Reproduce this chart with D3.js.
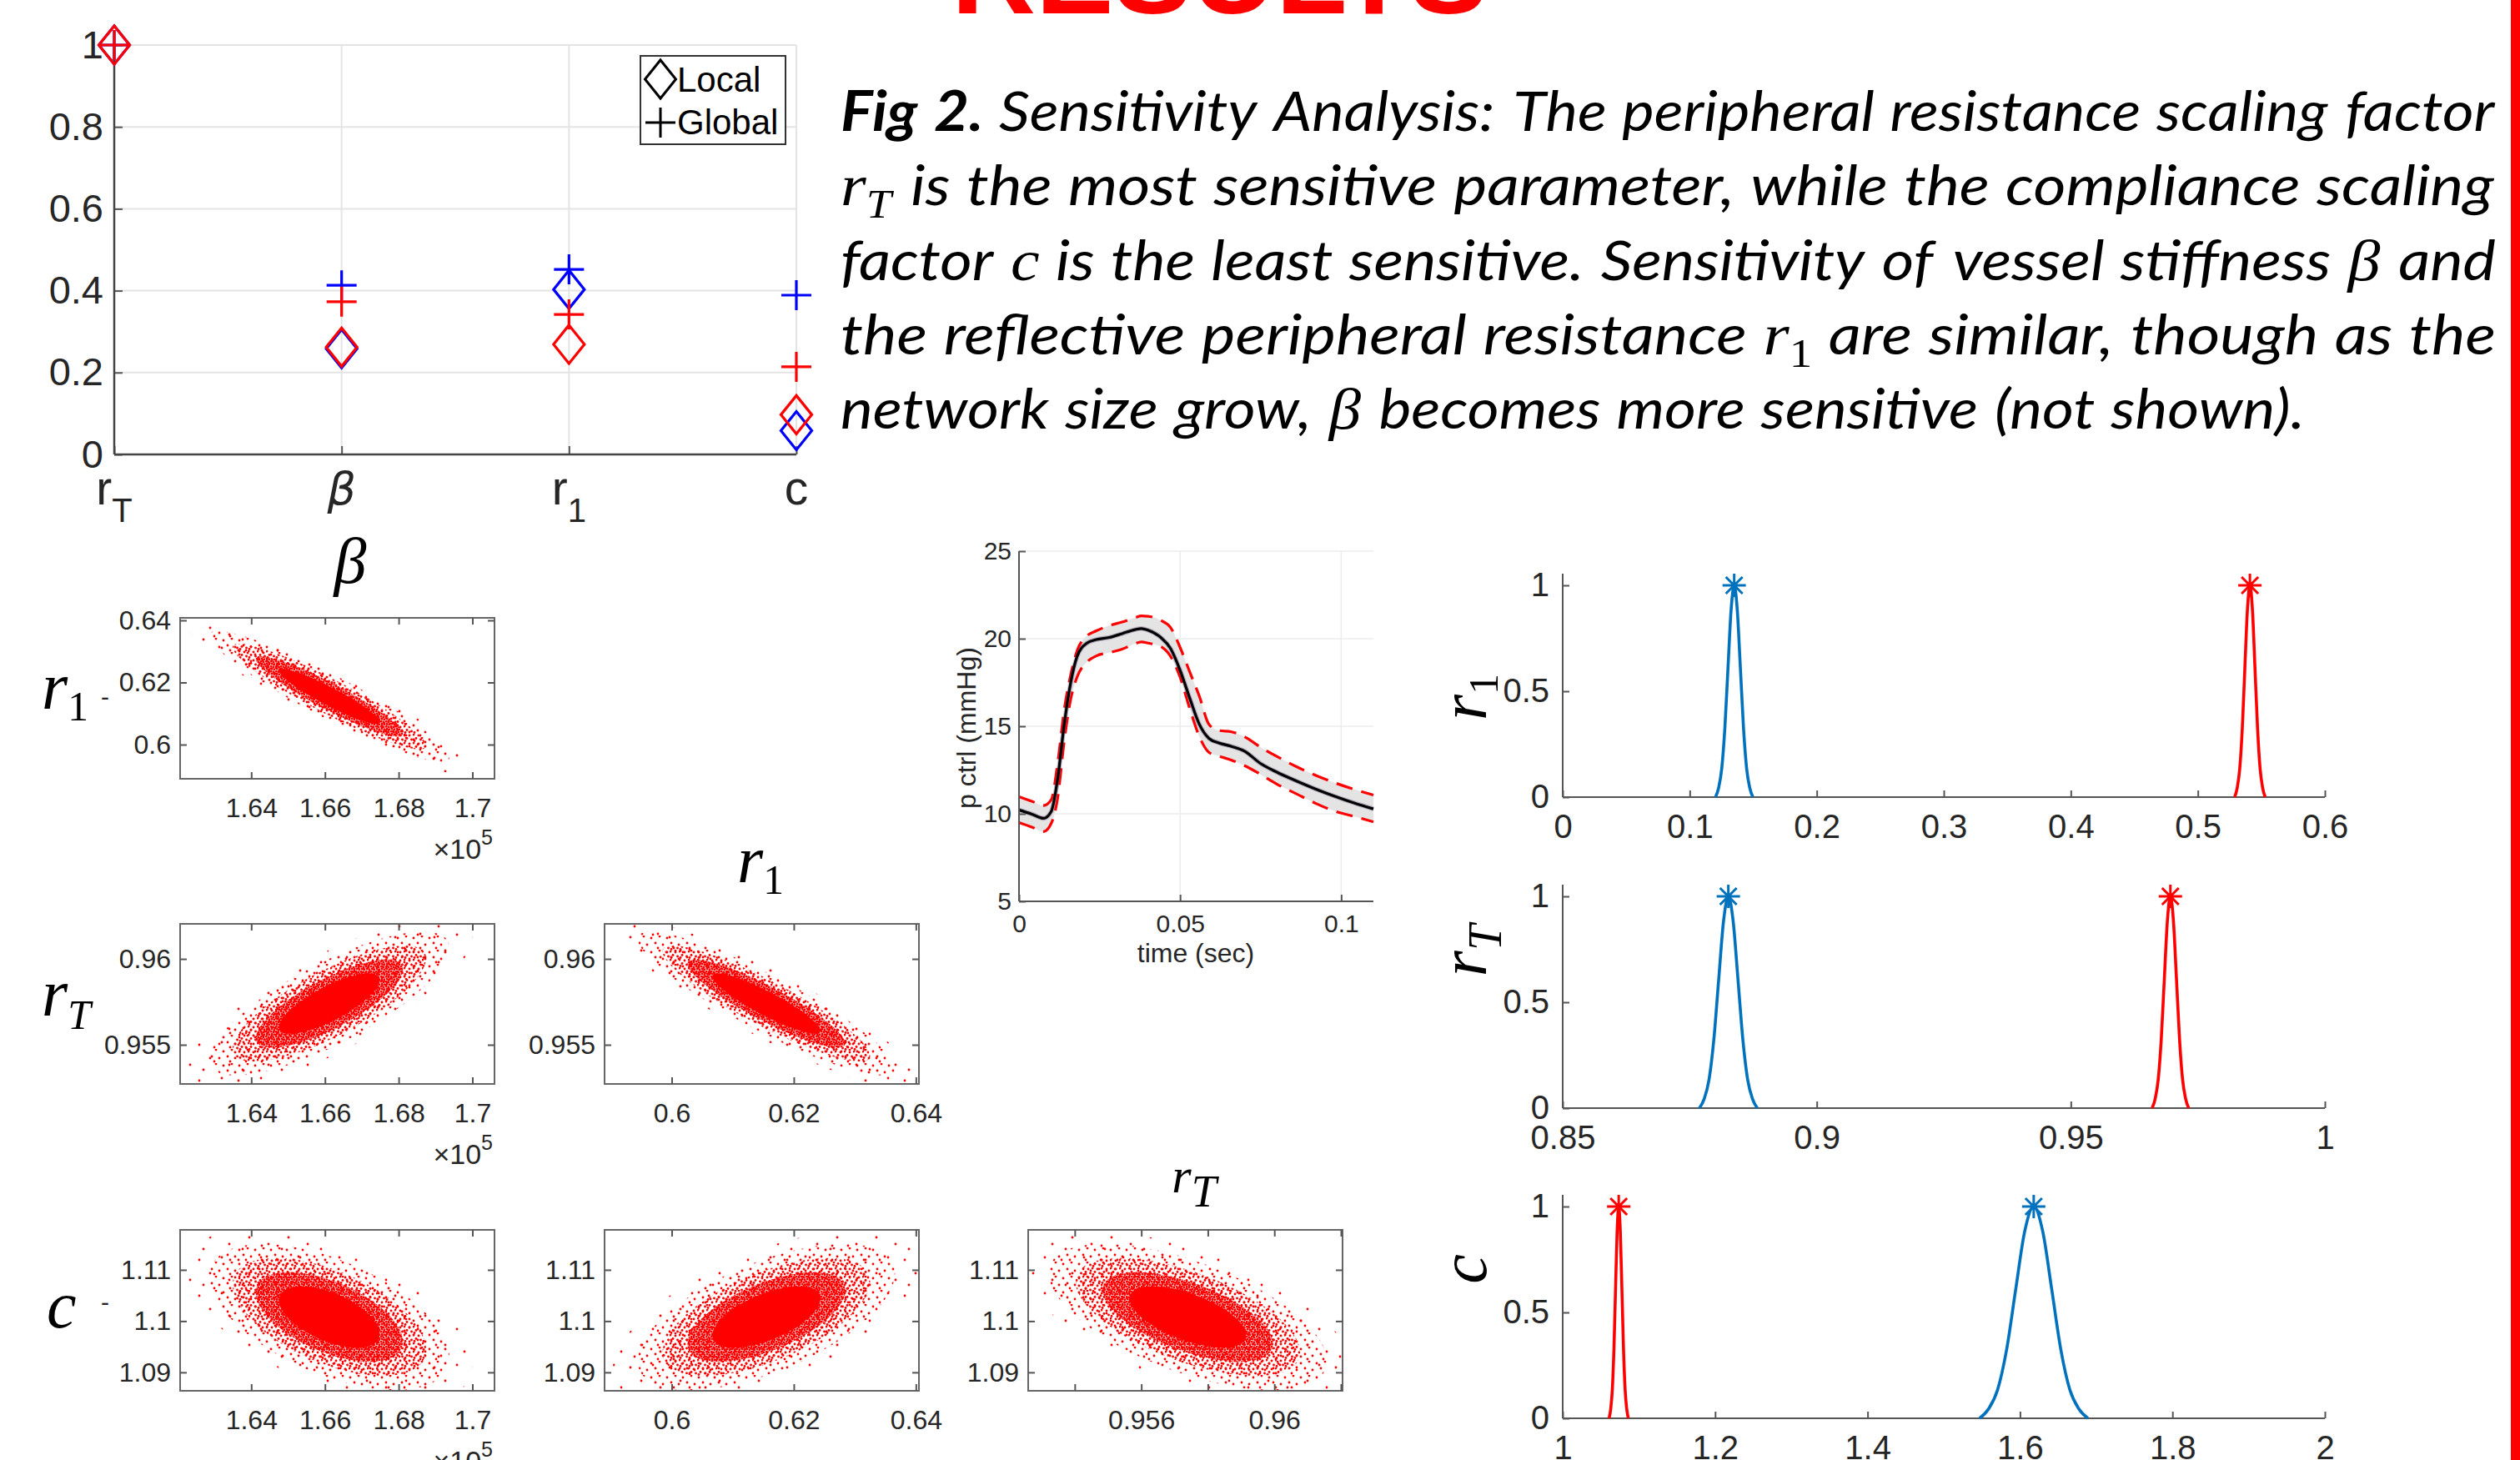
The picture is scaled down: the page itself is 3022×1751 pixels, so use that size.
<!DOCTYPE html>
<html><head><meta charset="utf-8">
<script src="https://cdn.jsdelivr.net/npm/d3@7"></script>
<style>body{margin:0;background:#fff;} svg{display:block;}</style>
</head><body>
<svg id="c" width="3022" height="1751"></svg>
<script>
// ===================== DATA =====================
// Sensitivity (top-left)
const sensCategories = ["rT", "beta", "r1", "c"];
const localBlue  = [1.0, 0.258, 0.403, 0.058];
const localRed   = [1.0, 0.262, 0.269, 0.097];
const globalBlue = [1.0, 0.413, 0.452, 0.389];
const globalRed  = [1.0, 0.373, 0.342, 0.214];
const sensYTicks = [0, 0.2, 0.4, 0.6, 0.8, 1];

const params    = ["beta", "r1", "rT", "c"];
const paramMean = [1.6612, 0.6155, 0.9574, 1.1008];
const paramSd   = [0.0105, 0.0068, 0.00135, 0.0046];
const pairX     = ["beta", "beta", "r1", "beta", "r1", "rT"];
const pairY     = ["r1",   "rT",   "rT", "c",    "c",  "c"];
const pairRho   = [-0.93,  0.78,  -0.90, -0.55,  0.60, -0.60];
const betaTicks = [1.64, 1.66, 1.68, 1.70];
const r1Ticks   = [0.60, 0.62, 0.64];
const rTxTicks  = [0.954, 0.956, 0.958, 0.960, 0.962];
const rTxLabels = [0.956, 0.960];
const rTyTicks  = [0.955, 0.960];
const cTicks    = [1.09, 1.10, 1.11];
const xDomains  = {beta: [1.6207, 1.7060], r1: [0.5890, 0.6405], rT: [0.9526, 0.96205]};
const yDomains  = {r1: [0.5890, 0.6408], rT: [0.95272, 0.96204], c: [1.0864, 1.1178]};

// Pressure trace (middle)
const timeSec = [0, 0.004, 0.0076, 0.010, 0.012, 0.014, 0.016, 0.018, 0.021, 0.024, 0.028, 0.032, 0.036, 0.038, 0.040, 0.044, 0.047, 0.050, 0.053, 0.056, 0.059, 0.062, 0.066, 0.070, 0.075, 0.080, 0.086, 0.092, 0.098, 0.104, 0.110];
const pMean  = [10.22, 9.98, 9.74, 10.13, 12.0, 15.06, 17.44, 18.97, 19.74, 19.95, 20.07, 20.29, 20.52, 20.58, 20.49, 20.07, 19.45, 18.2, 16.6, 15.1, 14.3, 14.05, 13.85, 13.58, 12.87, 12.38, 11.88, 11.42, 11.0, 10.62, 10.28];
const pUpper = [10.98, 10.72, 10.47, 10.80, 12.9, 15.9, 17.9, 19.3, 20.15, 20.45, 20.75, 20.95, 21.2, 21.3, 21.28, 21.05, 20.65, 19.5, 18.1, 16.7, 15.1, 14.76, 14.68, 14.4, 13.8, 13.28, 12.7, 12.2, 11.77, 11.4, 11.07];
const pLower = [9.50, 9.24, 8.98, 9.45, 10.9, 14.1, 16.5, 17.8, 18.65, 19.02, 19.2, 19.4, 19.72, 19.82, 19.75, 19.55, 19.0, 17.8, 16.0, 14.4, 13.5, 13.3, 13.06, 12.75, 12.25, 11.7, 11.15, 10.6, 10.15, 9.85, 9.54];
const pYTicks = [5, 10, 15, 20, 25];
const pXTicks = [0, 0.05, 0.1];

// Marginal densities (right column)
const peakShape = [0, 0.044, 0.135, 0.325, 0.607, 0.882, 1, 0.882, 0.607, 0.325, 0.135, 0.044, 0];
const r1BlueX = [0.1203, 0.12275, 0.1252, 0.12765, 0.1301, 0.13255, 0.1350, 0.13745, 0.1399, 0.14235, 0.1448, 0.14725, 0.1497];
const r1RedX  = [0.5290, 0.5310, 0.5330, 0.5350, 0.5370, 0.5390, 0.5410, 0.5430, 0.5450, 0.5470, 0.5490, 0.5510, 0.5530];
const rTBlueX = [0.8769, 0.87785, 0.8788, 0.87975, 0.8807, 0.88165, 0.8826, 0.88355, 0.8845, 0.88545, 0.8864, 0.88735, 0.8883];
const rTRedX  = [0.9660, 0.9666, 0.9672, 0.9678, 0.9684, 0.9690, 0.9696, 0.9702, 0.9708, 0.9714, 0.9720, 0.9726, 0.9732];
const cRedX   = [1.0609, 1.0630, 1.0651, 1.0672, 1.0693, 1.0714, 1.0735, 1.0756, 1.0777, 1.0798, 1.0819, 1.0840, 1.0861];
const cBlueX  = [1.5469, 1.55875, 1.5706, 1.58245, 1.5943, 1.60615, 1.618, 1.62985, 1.6417, 1.65355, 1.6654, 1.67725, 1.6891];
const r1XTicks = [0, 0.1, 0.2, 0.3, 0.4, 0.5, 0.6];
const rTXTicks = [0.85, 0.9, 0.95, 1];
const cXTicks  = [1, 1.2, 1.4, 1.6, 1.8, 2];
const margYTicks = [0, 0.5, 1];

// Caption
const captionLines = [
  [[["bi","Fig"]],[["bi","2."]],"Sensitivity","Analysis:","The","peripheral","resistance","scaling","factor"],
  [[["m","r"],["ms","T"]],"is","the","most","sensitive","parameter,","while","the","compliance","scaling"],
  ["factor",[["m","c"]],"is","the","least","sensitive.","Sensitivity","of","vessel","stiffness",[["m","β"]],"and"],
  ["the","reflective","peripheral","resistance",[["m","r"],["mn","1"]],"are","similar,","though","as","the"],
  ["network","size","grow,",[["m","β"]],"becomes","more","sensitive","(not","shown)."]
];

// ===================== DRAW =====================
const W = 3022, H = 1751;
const SANS = "'Liberation Sans', Arial, Helvetica, sans-serif";
const CAPF = "Lato, 'Open Sans', sans-serif";
const MATHF = "'Liberation Serif', 'DejaVu Serif', serif";
const INK = "#262626", AXC = "#555", BLUE = "#0000ff", RED = "#ff0000", MBLUE = "#0072bd";
const svg = d3.select("#c");
svg.append("rect").attr("width", W).attr("height", H).attr("fill", "#fff");
const defs = svg.append("defs");

function styleAxis(g, fs) {
  g.selectAll("text").attr("font-family", SANS).attr("font-size", fs).attr("fill", INK);
  g.selectAll(".tick line").attr("stroke", AXC).attr("stroke-width", 2);
  g.select(".domain").remove();
}
const fmt = d3.format("~g");

// Title (cut at top) and right red bar
svg.append("text").attr("x", 1141).attr("y", 16).attr("font-family", SANS).attr("font-weight", "bold")
  .attr("font-size", 138).attr("fill", RED).attr("textLength", 643).attr("lengthAdjust", "spacingAndGlyphs").text("RESULTS");
svg.append("rect").attr("x", 3011).attr("y", 0).attr("width", 11).attr("height", H).attr("fill", RED);

// ---------- Top-left sensitivity chart ----------
{
  const x = d3.scalePoint().domain(sensCategories).range([137, 955]);
  const y = d3.scaleLinear().domain([0, 1]).range([545, 54]);
  const g = svg.append("g");
  g.selectAll(".hg").data(sensYTicks.slice(1)).join("line")
    .attr("x1", 137).attr("x2", 955).attr("y1", d => y(d)).attr("y2", d => y(d))
    .attr("stroke", "#e4e4e4").attr("stroke-width", 2);
  g.selectAll(".vg").data(sensCategories.slice(1)).join("line")
    .attr("x1", d => x(d)).attr("x2", d => x(d)).attr("y1", y(0)).attr("y2", y(1))
    .attr("stroke", "#e4e4e4").attr("stroke-width", 2);
  const ya = g.append("g").attr("transform", "translate(137,0)")
    .call(d3.axisLeft(y).tickValues(sensYTicks).tickSize(-10).tickSizeOuter(0).tickPadding(13).tickFormat(fmt));
  styleAxis(ya, 47);
  const xa = g.append("g").attr("transform", "translate(0,545)")
    .call(d3.axisBottom(x).tickSize(-10).tickSizeOuter(0).tickFormat(""));
  styleAxis(xa, 47);
  g.append("line").attr("x1", 137).attr("x2", 137).attr("y1", y(0)).attr("y2", y(1)).attr("stroke", "#444").attr("stroke-width", 2.5);
  g.append("line").attr("x1", 137).attr("x2", 955).attr("y1", y(0)).attr("y2", y(0)).attr("stroke", "#444").attr("stroke-width", 2.5);
  // category labels
  const lab = {rT: ["r", "T"], beta: ["β", null], r1: ["r", "1"], c: ["c", null]};
  sensCategories.forEach(k => {
    const t = g.append("text").attr("x", x(k)).attr("y", 605).attr("text-anchor", "middle")
      .attr("font-family", SANS).attr("font-size", 57).attr("fill", INK);
    const b = t.append("tspan").text(lab[k][0]);
    if (k === "beta") b.attr("font-style", "italic").attr("font-family", "'DejaVu Sans', sans-serif").attr("font-weight", 200).attr("font-size", 54);
    if (lab[k][1]) t.append("tspan").attr("font-size", 40).attr("dy", 21).text(lab[k][1]);
  });
  const diamond = "M0,-23L18.5,0L0,23L-18.5,0Z";
  const plus = "M-18,0H18M0,-18V18";
  const series = [
    {vals: localBlue, color: BLUE, path: diamond},
    {vals: globalBlue, color: BLUE, path: plus},
    {vals: localRed, color: RED, path: diamond},
    {vals: globalRed, color: RED, path: plus}
  ];
  series.forEach(s => {
    g.selectAll(null).data(s.vals).join("path")
      .attr("transform", (d, i) => `translate(${x(sensCategories[i])},${y(d)})`)
      .attr("d", s.path).attr("fill", "none").attr("stroke", s.color).attr("stroke-width", 3.2);
  });
  // legend
  const lg = g.append("g");
  lg.append("rect").attr("x", 768).attr("y", 67).attr("width", 174).attr("height", 106)
    .attr("fill", "#fff").attr("stroke", "#333").attr("stroke-width", 2);
  lg.append("path").attr("transform", "translate(792,95)").attr("d", diamond).attr("fill", "none").attr("stroke", "#000").attr("stroke-width", 3);
  lg.append("path").attr("transform", "translate(792,147)").attr("d", plus).attr("fill", "none").attr("stroke", "#000").attr("stroke-width", 3);
  lg.append("text").attr("x", 812).attr("y", 110).attr("font-family", SANS).attr("font-size", 42).attr("fill", "#000").text("Local");
  lg.append("text").attr("x", 812).attr("y", 161).attr("font-family", SANS).attr("font-size", 42).attr("fill", "#000").text("Global");
}

// ---------- Caption ----------
{
  const x0 = 1008, widths = [1985, 1985, 1985, 1985, 1757], base = [157, 246, 336, 425, 514], fs = 66;
  captionLines.forEach((line, li) => {
    const lg = svg.append("g");
    const items = line.map(w => {
      const segs = typeof w === "string" ? [["i", w]] : w;
      const t = lg.append("text").attr("y", 0).attr("font-size", fs).attr("fill", "#000");
      segs.forEach(([st, txt]) => {
        const ts = t.append("tspan").text(txt);
        if (st === "i") ts.attr("font-family", CAPF).attr("font-style", "italic");
        else if (st === "bi") ts.attr("font-family", CAPF).attr("font-style", "italic").attr("font-weight", "bold");
        else if (st === "m") ts.attr("font-family", MATHF).attr("font-style", "italic").attr("font-size", fs * 1.05);
        else if (st === "ms") ts.attr("font-family", MATHF).attr("font-style", "italic").attr("font-size", fs * 0.72).attr("dy", fs * 0.22);
        else if (st === "mn") ts.attr("font-family", MATHF).attr("font-size", fs * 0.72).attr("dy", fs * 0.22);
      });
      return {t, w: t.node().getBBox().width};
    });
    const sum = d3.sum(items, d => d.w), n = items.length, gap = 17;
    const sc = widths[li] / (sum + gap * (n - 1));
    let cx = 0;
    items.forEach(it => { it.t.attr("x", cx); cx += it.w + gap; });
    lg.attr("transform", `translate(${x0},${base[li]}) scale(${sc},1)`);
  });
}

// ---------- Math label helper ----------
function mathText(parent, x, y, baseTxt, sub, fs, o = {}) {
  const t = parent.append("text").attr("x", x).attr("y", y).attr("font-family", MATHF)
    .attr("font-size", fs).attr("font-style", "italic").attr("fill", "#000").attr("text-anchor", o.anchor || "start");
  if (o.rotate) t.attr("transform", `rotate(-90 ${x} ${y})`);
  t.append("tspan").text(baseTxt);
  if (sub) t.append("tspan").attr("font-size", fs * (o.subScale || 0.62)).attr("dy", fs * (o.subDy || 0.2))
    .attr("font-style", o.subUpright ? "normal" : "italic").text(sub);
  return t;
}

// ---------- Scatter matrix ----------
{
  function makePattern(id, w, h, pts, r) {
    const p = defs.append("pattern").attr("id", id).attr("patternUnits", "userSpaceOnUse").attr("width", w).attr("height", h);
    pts.forEach(([a, b]) => p.append("circle").attr("cx", a).attr("cy", b).attr("r", r).attr("fill", RED));
  }
  makePattern("dotSparse", 47, 43, [[4, 6], [31, 3], [17, 22], [40, 30], [9, 36]], 1.4);
  makePattern("dotLight", 19, 17, [[2, 3], [12, 1], [7, 9], [16, 11], [10, 15]], 1.4);
  makePattern("dotMid", 11, 10, [[1, 1], [7, 2], [4, 5.5], [9.5, 7], [2, 8.5]], 1.45);
  makePattern("dotDense", 6, 6, [[1, 1], [4, 1.8], [2, 4], [5, 4.8]], 1.5);
  const layers = [{k: 3.7, fill: "url(#dotSparse)"}, {k: 3.1, fill: "url(#dotLight)"}, {k: 2.5, fill: "url(#dotMid)"},
                  {k: 1.9, fill: "url(#dotDense)"}, {k: 1.3, fill: RED}];
  const colX = {beta: [216, 593], r1: [725, 1102], rT: [1233, 1610]};
  const rowY = {r1: [741, 934], rT: [1108, 1300], c: [1475, 1668]};
  const xTickSet = {beta: betaTicks, r1: r1Ticks, rT: rTxTicks};
  const yTickSet = {r1: r1Ticks, rT: rTyTicks, c: cTicks};
  pairX.forEach((px, i) => {
    const py = pairY[i], rho = pairRho[i];
    const xi = params.indexOf(px), yi = params.indexOf(py);
    const [xl, xr] = colX[px], [yt, yb] = rowY[py];
    const xs = d3.scaleLinear().domain(xDomains[px]).range([xl, xr]);
    const ys = d3.scaleLinear().domain(yDomains[py]).range([yb, yt]);
    const g = svg.append("g");
    const cid = "clip" + i;
    defs.append("clipPath").attr("id", cid).append("rect").attr("x", xl).attr("y", yt).attr("width", xr - xl).attr("height", yb - yt);
    const cg = g.append("g").attr("clip-path", `url(#${cid})`);
    const line = d3.line().x(d => xs(d[0])).y(d => ys(d[1]));
    layers.forEach(L => {
      const pts = d3.range(0, 96).map(j => {
        const t = j / 96 * 2 * Math.PI;
        return [paramMean[xi] + L.k * paramSd[xi] * Math.cos(t),
                paramMean[yi] + L.k * paramSd[yi] * (rho * Math.cos(t) + Math.sqrt(1 - rho * rho) * Math.sin(t))];
      });
      cg.append("path").attr("d", line(pts) + "Z").attr("fill", L.fill);
    });
    g.append("rect").attr("x", xl).attr("y", yt).attr("width", xr - xl).attr("height", yb - yt)
      .attr("fill", "none").attr("stroke", "#666").attr("stroke-width", 2);
    const labelFmt = d => (px === "rT" && !rTxLabels.some(v => Math.abs(v - d) < 1e-9)) ? "" : fmt(d);
    const ab = g.append("g").attr("transform", `translate(0,${yb})`)
      .call(d3.axisBottom(xs).tickValues(xTickSet[px]).tickSize(-8).tickSizeOuter(0).tickPadding(23).tickFormat(labelFmt));
    styleAxis(ab, 32);
    const at = g.append("g").attr("transform", `translate(0,${yt})`)
      .call(d3.axisTop(xs).tickValues(xTickSet[px]).tickSize(-8).tickSizeOuter(0).tickFormat(""));
    styleAxis(at, 32);
    const al = g.append("g").attr("transform", `translate(${xl},0)`)
      .call(d3.axisLeft(ys).tickValues(yTickSet[py]).tickSize(-8).tickSizeOuter(0).tickPadding(11).tickFormat(fmt));
    styleAxis(al, 32);
    const ar = g.append("g").attr("transform", `translate(${xr},0)`)
      .call(d3.axisRight(ys).tickValues(yTickSet[py]).tickSize(-8).tickSizeOuter(0).tickFormat(""));
    styleAxis(ar, 32);
    if (px === "beta") {
      const t = g.append("text").attr("x", xr - 2).attr("y", yb + 96).attr("text-anchor", "end")
        .attr("font-family", SANS).attr("font-size", 34).attr("fill", INK);
      t.append("tspan").text("×10");
      t.append("tspan").attr("font-size", 25).attr("dy", -17).text("5");
    }
  });
  // row labels & column titles
  mathText(svg, 50, 850, "r", "1", 80, {subUpright: true, subScale: 0.62, subDy: 0.18});
  mathText(svg, 50, 1218, "r", "T", 80, {subScale: 0.62, subDy: 0.2});
  mathText(svg, 56, 1592, "c", null, 80);
  [[126, 846], [126, 1572]].forEach(([a, b]) => svg.append("text").attr("x", a).attr("y", b).attr("text-anchor", "middle")
    .attr("font-family", SANS).attr("font-size", 30).attr("fill", INK).text("-"));
  mathText(svg, 420, 699, "β", null, 78, {anchor: "middle"});
  mathText(svg, 912, 1058, "r", "1", 80, {anchor: "middle", subUpright: true, subScale: 0.62, subDy: 0.18});
  mathText(svg, 1432, 1430, "r", "T", 60, {anchor: "middle", subScale: 0.9, subDy: 0.28});
}

// ---------- Pressure trace ----------
{
  const x = d3.scaleLinear().domain([0, 0.11]).range([1222, 1647]);
  const y = d3.scaleLinear().domain([5, 25]).range([1081, 661]);
  const g = svg.append("g");
  g.selectAll(".hg").data(pYTicks.slice(1)).join("line").attr("x1", 1222).attr("x2", 1647)
    .attr("y1", d => y(d)).attr("y2", d => y(d)).attr("stroke", "#ececec").attr("stroke-width", 1.5);
  g.selectAll(".vg").data(pXTicks.slice(1)).join("line").attr("x1", d => x(d)).attr("x2", d => x(d))
    .attr("y1", 661).attr("y2", 1081).attr("stroke", "#ececec").attr("stroke-width", 1.5);
  const idx = d3.range(timeSec.length);
  g.append("path").attr("d", d3.area().x(i => x(timeSec[i])).y0(i => y(pLower[i])).y1(i => y(pUpper[i])).curve(d3.curveMonotoneX)(idx))
    .attr("fill", "#e4e4e4");
  const ln = arr => d3.line().x(i => x(timeSec[i])).y(i => y(arr[i])).curve(d3.curveMonotoneX)(idx);
  g.append("path").attr("d", ln(pUpper)).attr("fill", "none").attr("stroke", RED).attr("stroke-width", 3.2).attr("stroke-dasharray", "20 11");
  g.append("path").attr("d", ln(pLower)).attr("fill", "none").attr("stroke", RED).attr("stroke-width", 3.2).attr("stroke-dasharray", "20 11");
  g.append("path").attr("d", ln(pMean)).attr("fill", "none").attr("stroke", "#6b4a7a").attr("stroke-width", 5.5).attr("opacity", 0.35);
  g.append("path").attr("d", ln(pMean)).attr("fill", "none").attr("stroke", "#000").attr("stroke-width", 3.2);
  const ya = g.append("g").attr("transform", "translate(1222,0)")
    .call(d3.axisLeft(y).tickValues(pYTicks).tickSize(-8).tickSizeOuter(0).tickPadding(9).tickFormat(fmt));
  styleAxis(ya, 30);
  const xa = g.append("g").attr("transform", "translate(0,1081)")
    .call(d3.axisBottom(x).tickValues(pXTicks).tickSize(-8).tickSizeOuter(0).tickPadding(16).tickFormat(fmt));
  styleAxis(xa, 30);
  g.append("line").attr("x1", 1222).attr("x2", 1222).attr("y1", 661).attr("y2", 1081).attr("stroke", AXC).attr("stroke-width", 2);
  g.append("line").attr("x1", 1222).attr("x2", 1647).attr("y1", 1081).attr("y2", 1081).attr("stroke", AXC).attr("stroke-width", 2);
  g.append("text").attr("transform", "translate(1170,873) rotate(-90)").attr("text-anchor", "middle")
    .attr("font-family", SANS).attr("font-size", 32).attr("fill", INK).text("p ctrl (mmHg)");
  g.append("text").attr("x", 1434).attr("y", 1154).attr("text-anchor", "middle")
    .attr("font-family", SANS).attr("font-size", 32).attr("fill", INK).text("time (sec)");
}

// ---------- Marginal comparisons ----------
{
  const panels = [
    {y0: 956, y1: 702, dom: [0, 0.6], ticks: r1XTicks, label: ["r", "1"], labY: 836, sub: {subUpright: true, subScale: 0.62, subDy: 0.18},
     curves: [{xs: r1BlueX, c: MBLUE}, {xs: r1RedX, c: RED}]},
    {y0: 1329, y1: 1075, dom: [0.85, 1], ticks: rTXTicks, label: ["r", "T"], labY: 1140, sub: {subScale: 0.7, subDy: 0.22},
     curves: [{xs: rTBlueX, c: MBLUE}, {xs: rTRedX, c: RED}]},
    {y0: 1701, y1: 1447, dom: [1, 2], ticks: cXTicks, label: ["c", null], labY: 1522, sub: {},
     curves: [{xs: cRedX, c: RED}, {xs: cBlueX, c: MBLUE}]}
  ];
  const star = "M-14,0H14M0,-14V14M-10,-10L10,10M-10,10L10,-10";
  panels.forEach(P => {
    const x = d3.scaleLinear().domain(P.dom).range([1874, 2788]);
    const y = d3.scaleLinear().domain([0, 1]).range([P.y0, P.y1]);
    const g = svg.append("g");
    const xa = g.append("g").attr("transform", `translate(0,${P.y0})`)
      .call(d3.axisBottom(x).tickValues(P.ticks).tickSize(-8).tickSizeOuter(0).tickPadding(21).tickFormat(fmt));
    styleAxis(xa, 40);
    const ya = g.append("g").attr("transform", "translate(1874,0)")
      .call(d3.axisLeft(y).tickValues(margYTicks).tickSize(-8).tickSizeOuter(0).tickPadding(16).tickFormat(fmt));
    styleAxis(ya, 40);
    g.append("line").attr("x1", 1874).attr("x2", 2788).attr("y1", P.y0).attr("y2", P.y0).attr("stroke", AXC).attr("stroke-width", 2);
    g.append("line").attr("x1", 1874).attr("x2", 1874).attr("y1", P.y0).attr("y2", y(1.055)).attr("stroke", AXC).attr("stroke-width", 2);
    P.curves.forEach(cv => {
      const idx = d3.range(cv.xs.length);
      g.append("path").attr("d", d3.line().x(i => x(cv.xs[i])).y(i => y(peakShape[i])).curve(d3.curveMonotoneX)(idx))
        .attr("fill", "none").attr("stroke", cv.c).attr("stroke-width", 3.6);
      const im = d3.maxIndex(peakShape);
      g.append("path").attr("transform", `translate(${x(cv.xs[im])},${y(peakShape[im])})`).attr("d", star)
        .attr("fill", "none").attr("stroke", cv.c).attr("stroke-width", 3);
    });
    mathText(g, 1782, P.labY, P.label[0], P.label[1], 80, Object.assign({anchor: "middle", rotate: true}, P.sub));
  });
}
</script></body></html>
